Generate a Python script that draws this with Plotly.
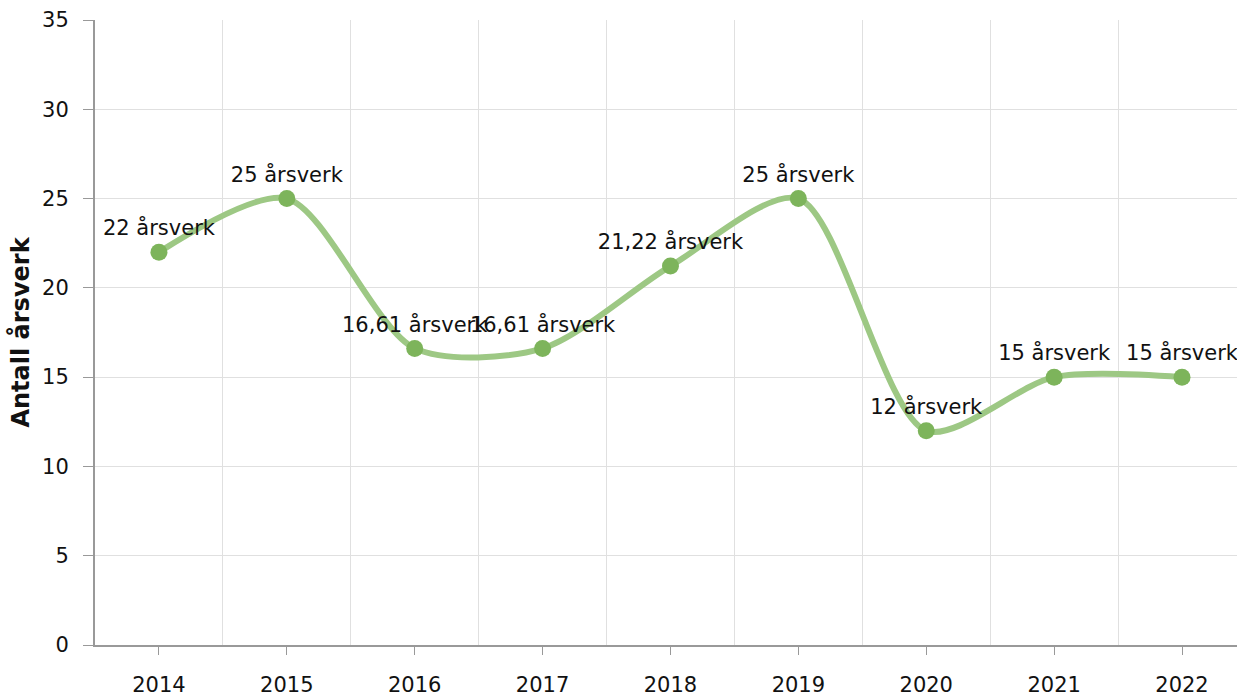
import plotly.graph_objects as go

# ----------------------
# Data
# ----------------------
years = ["2014", "2015", "2016", "2017", "2018", "2019", "2020", "2021", "2022"]
arsverk = [22, 25, 16.61, 16.61, 21.22, 25, 12, 15, 15]
labels = ["22 årsverk", "25 årsverk", "16,61 årsverk", "16,61 årsverk", "21,22 årsverk",
          "25 årsverk", "12 årsverk", "15 årsverk", "15 årsverk"]

positions = list(range(len(years)))  # numeric x so grid can sit between categories

fig = go.Figure(
    go.Scatter(
        x=positions,
        y=arsverk,
        mode="lines+markers+text",
        line=dict(color="#9dc884", width=6, shape="spline", smoothing=0.8),
        marker=dict(color="#7db45b", size=17),
        text=labels,
        textposition="top center",
        textfont=dict(size=21, color="#111111"),
        cliponaxis=False,
        hoverinfo="skip",
    )
)

fig.update_layout(
    width=1237,
    height=695,
    paper_bgcolor="white",
    plot_bgcolor="white",
    font=dict(family="DejaVu Sans, Verdana, sans-serif", size=21, color="#111111"),
    showlegend=False,
    margin=dict(l=95, r=0, t=20, b=50),
)

fig.update_xaxes(
    range=[-0.5, 8.43],
    automargin=False,
    tickmode="array",
    tickvals=positions,
    ticktext=years,
    ticks="outside",
    ticklen=8,
    tickcolor="#999999",
    ticklabelstandoff=12,
    showgrid=False,
    zeroline=False,
    showline=True,
    linecolor="#999999",
    linewidth=2,
    minor=dict(tick0=0.5, dtick=1, showgrid=True, gridcolor="#e0e0e0", gridwidth=1, ticks=""),
)

fig.update_yaxes(
    range=[0, 35],
    automargin=False,
    dtick=5,
    ticks="outside",
    ticklen=10,
    tickcolor="#999999",
    ticklabelstandoff=10,
    showgrid=True,
    gridcolor="#e0e0e0",
    zeroline=False,
    showline=True,
    linecolor="#999999",
    linewidth=2,
    title=dict(text="<b>Antall årsverk</b>", font=dict(size=24), standoff=6),
)

# drop the default 8px page margin so the figure fills the window exactly
fig.write_html(
    "out.html",
    config={"displayModeBar": False},
    post_script="document.body.style.margin='0';document.body.style.overflow='hidden';",
)
